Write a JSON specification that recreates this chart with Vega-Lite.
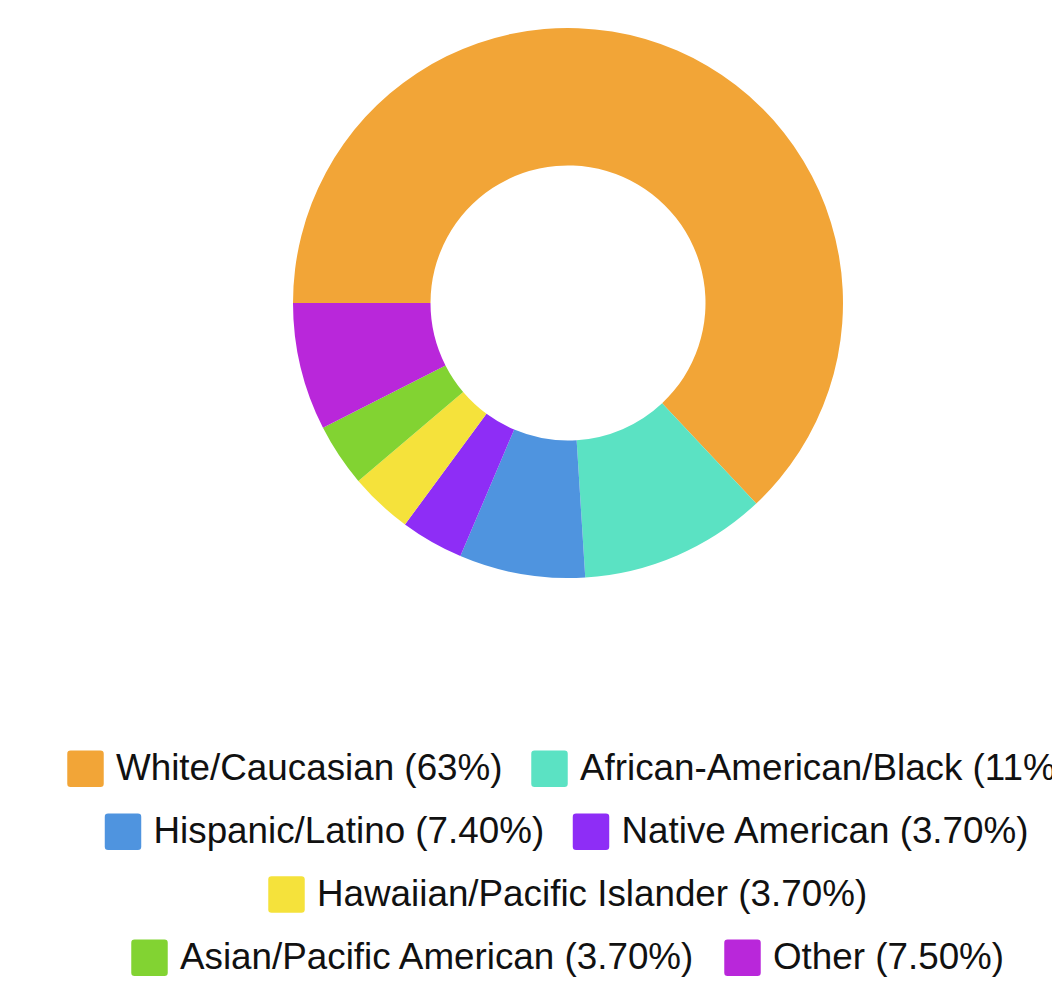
{
  "$schema": "https://vega.github.io/schema/vega-lite/v6.json",
  "width": 1136,
  "height": 606,
  "padding": 0,
  "autosize": {"type": "pad"},
  "background": "white",
  "data": {
    "values": [
      {"group": "White/Caucasian (63%)", "value": 63},
      {"group": "African-American/Black (11%)", "value": 11},
      {"group": "Hispanic/Latino (7.40%)", "value": 7.4},
      {"group": "Native American (3.70%)", "value": 3.7},
      {"group": "Hawaiian/Pacific Islander (3.70%)", "value": 3.7},
      {"group": "Asian/Pacific American (3.70%)", "value": 3.7},
      {"group": "Other (7.50%)", "value": 7.5}
    ]
  },
  "transform": [{"stack": "value", "groupby": [], "as": ["v0", "v1"]}],
  "layer": [
    {
      "transform": [{"filter": {"field": "group", "oneOf": ["White/Caucasian (63%)", "African-American/Black (11%)"]}}],
      "mark": {"type": "arc", "innerRadius": 137.5, "outerRadius": 275},
      "encoding": {
        "theta": {"field": "v0", "type": "quantitative", "scale": {"domain": [0, 100], "range": [-1.5707963, 4.712389]}},
        "theta2": {"field": "v1"},
        "color": {"field": "group", "type": "nominal", "sort": null,
          "scale": {"domain": ["White/Caucasian (63%)", "African-American/Black (11%)"], "range": ["#F2A537", "#5BE2C3"]},
          "legend": {"title": null}}
      }
    },
    {
      "transform": [{"filter": {"field": "group", "oneOf": ["Hispanic/Latino (7.40%)", "Native American (3.70%)"]}}],
      "mark": {"type": "arc", "innerRadius": 137.5, "outerRadius": 275},
      "encoding": {
        "theta": {"field": "v0", "type": "quantitative", "scale": {"domain": [0, 100], "range": [-1.5707963, 4.712389]}},
        "theta2": {"field": "v1"},
        "color": {"field": "group", "type": "nominal", "sort": null,
          "scale": {"domain": ["Hispanic/Latino (7.40%)", "Native American (3.70%)"], "range": ["#4F94DF", "#8E2DF6"]},
          "legend": {"title": null}}
      }
    },
    {
      "transform": [{"filter": {"field": "group", "oneOf": ["Hawaiian/Pacific Islander (3.70%)"]}}],
      "mark": {"type": "arc", "innerRadius": 137.5, "outerRadius": 275},
      "encoding": {
        "theta": {"field": "v0", "type": "quantitative", "scale": {"domain": [0, 100], "range": [-1.5707963, 4.712389]}},
        "theta2": {"field": "v1"},
        "color": {"field": "group", "type": "nominal", "sort": null,
          "scale": {"domain": ["Hawaiian/Pacific Islander (3.70%)"], "range": ["#F5E23B"]},
          "legend": {"title": null}}
      }
    },
    {
      "transform": [{"filter": {"field": "group", "oneOf": ["Asian/Pacific American (3.70%)", "Other (7.50%)"]}}],
      "mark": {"type": "arc", "innerRadius": 137.5, "outerRadius": 275},
      "encoding": {
        "theta": {"field": "v0", "type": "quantitative", "scale": {"domain": [0, 100], "range": [-1.5707963, 4.712389]}},
        "theta2": {"field": "v1"},
        "color": {"field": "group", "type": "nominal", "sort": null,
          "scale": {"domain": ["Asian/Pacific American (3.70%)", "Other (7.50%)"], "range": ["#82D332", "#B927DA"]},
          "legend": {"title": null}}
      }
    }
  ],
  "resolve": {"scale": {"color": "independent"}, "legend": {"color": "independent"}},
  "config": {
    "view": {"stroke": null},
    "legend": {
      "orient": "bottom",
      "direction": "horizontal",
      "offset": 144,
      "padding": 0,
      "labelFont": "Liberation Sans",
      "labelFontSize": 36.8,
      "labelColor": "#111111",
      "labelLimit": 0,
      "labelOffset": 12,
      "columnPadding": 28,
      "symbolType": "M-0.82,-1H0.82Q1,-1 1,-0.82V0.82Q1,1 0.82,1H-0.82Q-1,1 -1,0.82V-0.82Q-1,-1 -0.82,-1Z",
      "symbolSize": 1330,
      "symbolStrokeWidth": 0,
      "symbolOpacity": 1,
      "layout": {"bottom": {"direction": "vertical", "anchor": "middle", "center": true, "margin": 25}}
    }
  }
}
